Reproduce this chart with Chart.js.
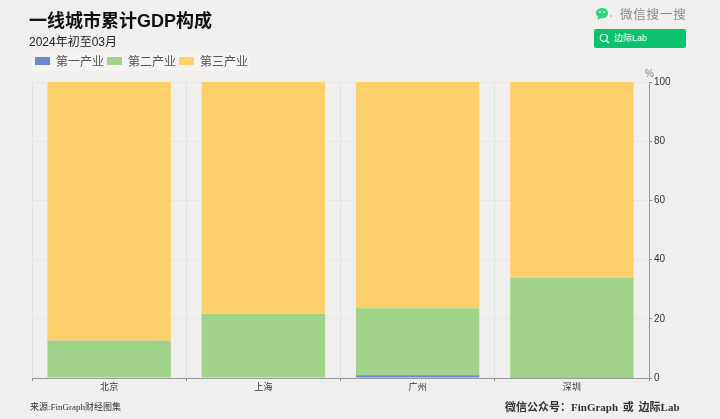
<!DOCTYPE html>
<html>
<head>
<meta charset="utf-8">
<script src="https://cdn.jsdelivr.net/npm/chart.js@4"></script>
<style>
html, body { margin: 0; padding: 0; background: #f0efee; }
#wrap { position: relative; width: 720px; height: 419px; overflow: hidden; font-family: "Liberation Sans", "Noto Sans CJK SC", sans-serif; }
#wrap div, #wrap svg { position: absolute; white-space: nowrap; }
#myChart { position: absolute; left: 0; top: 0; }
</style>
</head>
<body>
<div id="wrap">
  <canvas id="myChart" width="720" height="419"></canvas>
  <div style="left:29px;top:8px;font-size:18px;line-height:26px;font-weight:700;color:#111">一线城市累计GDP构成</div>
  <div style="left:29px;top:34px;font-size:12px;line-height:17px;color:#222">2024年初至03月</div>
  <div style="left:30px;top:400px;font-size:9px;line-height:14px;color:#333;font-family:'Liberation Serif','Noto Sans CJK SC',serif">来源:FinGraph财经图集</div>
  <div style="left:505px;top:399px;font-size:11px;line-height:16px;font-weight:700;color:#333;font-family:'Liberation Serif','Noto Sans CJK SC',serif;word-spacing:2px">微信公众号：FinGraph 或 边际Lab</div>
  <svg style="left:595px;top:7px" width="18" height="15" viewBox="0 0 18 15">
    <path d="M7 1C3.5 1 1 3.2 1 6c0 1.600.8 2.900 2 3.800L2.600 13l3-1.800c.5.1.9.1 1.400.1 3.500 0 6-2.200 6-5.300S10.500 1 7 1z" fill="#2fd47f"/>
    <circle cx="5" cy="5" r="1" fill="#f0efee"/><circle cx="9" cy="5" r="1" fill="#f0efee"/>
    <circle cx="16" cy="9" r="0.800" fill="#999"/>
  </svg>
  <div style="left:620px;top:6px;font-size:12.5px;line-height:18px;letter-spacing:0.8px;color:#8a8a8a">微信搜一搜</div>
  <div style="left:594px;top:29px;width:92px;height:19px;background:#0cc26d;border-radius:2px"></div>
  <svg style="left:599px;top:33px" width="11" height="11" viewBox="0 0 11 11">
    <circle cx="4.800" cy="4.800" r="3.600" fill="none" stroke="#fff" stroke-width="1.100"/>
    <line x1="7.500" y1="7.500" x2="10" y2="10" stroke="#fff" stroke-width="1.100"/>
  </svg>
  <div style="left:614px;top:31px;font-size:9px;line-height:15px;color:#fff">边际Lab</div>
</div>
<script>
const categories = ["北京", "上海", "广州", "深圳"];
const primary = [0.2, 0.2, 0.9, 0.1];
const secondary = [12.5, 21.5, 22.7, 33.8];
const tertiary = [87.3, 78.3, 76.4, 66.1];
const yTicks = [0, 20, 40, 60, 80, 100];

const legendBox = {
    id: "legendBox",
    beforeInit(chart) {
        // leave room so the plot starts under the legend
        const fit = chart.legend.fit;
        chart.legend.fit = function () {
            fit.call(this);
            this.height = 30;
        };
    },
    beforeDraw(chart) {
        const ctx = chart.ctx;
        ctx.save();
        ctx.fillStyle = "#f4f3f2";
        ctx.fillRect(32, 52, 218, 19);
        ctx.restore();
    },
    afterDraw(chart) {
        const ctx = chart.ctx;
        const y = chart.scales.y;
        ctx.save();
        ctx.fillStyle = "#888";
        ctx.font = "10px 'Liberation Sans'";
        ctx.textAlign = "left";
        ctx.textBaseline = "bottom";
        ctx.fillText("%", y.left - 4, y.top - 3);
        ctx.restore();
    }
};

const ctx = document.getElementById("myChart").getContext("2d");
new Chart(ctx, {
    type: "bar",
    data: {
        labels: categories,
        datasets: [
            { label: "第一产业", data: primary, backgroundColor: "#6b8bd0" },
            { label: "第二产业", data: secondary, backgroundColor: "#a1d48a" },
            { label: "第三产业", data: tertiary, backgroundColor: "#fdd06c" }
        ]
    },
    options: {
        responsive: false,
        animation: false,
        layout: { padding: { left: 32, right: 0, top: 52, bottom: 0 } },
        datasets: { bar: { categoryPercentage: 0.8, barPercentage: 1 } },
        plugins: {
            title: { display: false },
            tooltip: { enabled: false },
            legend: {
                display: true,
                position: "top",
                align: "start",
                labels: {
                    boxWidth: 15,
                    boxHeight: 8,
                    padding: 3,
                    color: "#555",
                    font: { size: 12, family: "'Noto Sans CJK SC'" }
                }
            }
        },
        scales: {
            x: {
                stacked: true,
                afterFit(scale) { scale.height = 41; },
                grid: { color: "#e2e2e2", tickColor: "#888", tickLength: 3, drawOnChartArea: true },
                border: { color: "#999" },
                ticks: { color: "#333", font: { size: 9, family: "'Noto Sans CJK SC'" }, padding: 0, maxRotation: 0 }
            },
            y: {
                stacked: true,
                position: "right",
                min: 0,
                max: 100,
                afterFit(scale) { scale.width = 71; },
                afterBuildTicks(scale) { scale.ticks = yTicks.map(v => ({ value: v })); },
                grid: { color: "#e6e6e6", tickColor: "#888", tickLength: 3 },
                border: { color: "#999" },
                ticks: { color: "#333", font: { size: 10, family: "'Liberation Sans'" }, padding: 2 }
            }
        }
    },
    plugins: [legendBox]
});
</script>
</body>
</html>
